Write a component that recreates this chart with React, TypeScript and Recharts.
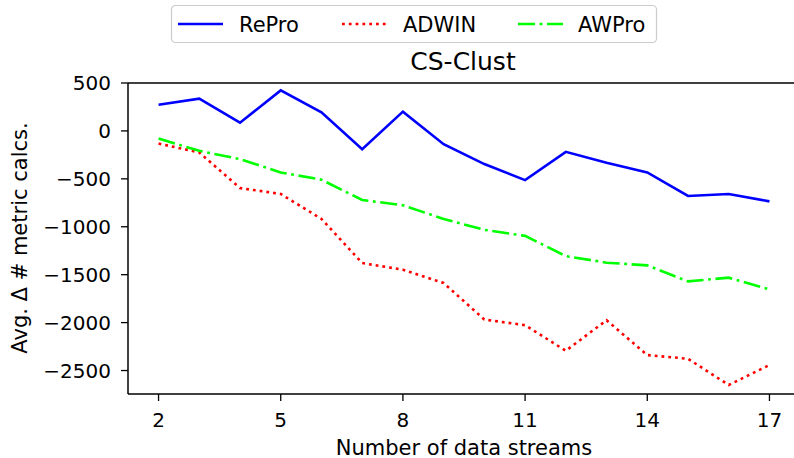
import React from "react";
import { LineChart, Line, XAxis, YAxis, ReferenceLine } from "recharts";

const streams = [2, 3, 4, 5, 6, 7, 8, 9, 10, 11, 12, 13, 14, 15, 16, 17];
const repro = [273, 336, 86, 423, 194, -190, 201, -138, -346, -513, -218, -333, -433, -679, -658, -735];
const adwin = [-132, -225, -596, -658, -918, -1379, -1448, -1587, -1968, -2027, -2294, -1975, -2339, -2377, -2651, -2443];
const awpro = [-80, -208, -294, -433, -509, -720, -776, -918, -1032, -1095, -1306, -1375, -1403, -1570, -1531, -1653];
const xTicks = [2, 5, 8, 11, 14, 17];
const yTicks = [500, 0, -500, -1000, -1500, -2000, -2500];

const data = streams.map((n, i) => ({
  n,
  repro: repro[i],
  adwin: adwin[i],
  awpro: awpro[i],
}));

const FONT = "'DejaVu Sans', sans-serif";

const series = [
  { key: "repro", name: "RePro", color: "#0000ff", dash: undefined as string | undefined },
  { key: "adwin", name: "ADWIN", color: "#ff0000", dash: "2.8 4" },
  { key: "awpro", name: "AWPro", color: "#00ff00", dash: "17 4.6 2.8 4.6" },
];

// legend sample / text x positions, page pixels
const legendX = [
  { line: 178, text: 239 },
  { line: 342, text: 403 },
  { line: 518, text: 578 },
];

const Overlay = () => (
  <svg width={794} height={80} style={{ position: "absolute", left: 0, top: 0, pointerEvents: "none" }}>
    <rect x={171.5} y={5.5} width={485} height={37} rx={4} fill="#fff" stroke="#cccccc" strokeWidth={1.2} />
    {series.map((s, i) => (
      <g key={s.key}>
        <line
          x1={legendX[i].line}
          x2={legendX[i].line + 45}
          y1={24}
          y2={24}
          stroke={s.color}
          strokeWidth={2.6}
          strokeDasharray={s.dash}
        />
        <text x={legendX[i].text} y={31.5} fontSize={21} fontFamily={FONT} fill="#000">
          {s.name}
        </text>
      </g>
    ))}
    <text x={463} y={70} textAnchor="middle" fontSize={25} fontFamily={FONT} fill="#000">
      CS-Clust
    </text>
  </svg>
);

export default function App() {
  return (
    <div style={{ position: "absolute", left: 0, top: 0, width: 794, height: 458, overflow: "hidden", background: "#fff" }}>
      <LineChart width={800} height={458} data={data} margin={{ top: 83, right: 0, bottom: 0, left: 0 }}>
        <XAxis
          dataKey="n"
          type="number"
          domain={[1.25, 17.75]}
          ticks={xTicks}
          allowDataOverflow
          height={64}
          tickSize={7}
          tickMargin={12}
          axisLine={{ stroke: "#000", strokeWidth: 1.5 }}
          tickLine={{ stroke: "#000", strokeWidth: 1.3 }}
          tick={{ fontSize: 20, fill: "#000", fontFamily: FONT }}
          label={{
            content: () => (
              <text x={464} y={455} textAnchor="middle" fontSize={21} fontFamily={FONT} fill="#000">
                Number of data streams
              </text>
            ),
          }}
        />
        <YAxis
          type="number"
          domain={[-2745, 500]}
          ticks={yTicks}
          allowDataOverflow
          width={128}
          tickSize={7}
          tickMargin={10}
          axisLine={{ stroke: "#000", strokeWidth: 1.5 }}
          tickLine={{ stroke: "#000", strokeWidth: 1.3 }}
          tick={{ fontSize: 20, fill: "#000", fontFamily: FONT }}
          tickFormatter={(v: number) => (v < 0 ? `\u2212${Math.abs(v)}` : `${v}`)}
          label={{
            content: () => (
              <text
                x={20}
                y={238}
                transform="rotate(-90 20 238)"
                textAnchor="middle"
                dominantBaseline="central"
                fontSize={21}
                fontFamily={FONT}
                fill="#000"
              >
                Avg. Δ # metric calcs.
              </text>
            ),
          }}
        />
        <ReferenceLine y={500} stroke="#000" strokeWidth={1.5} />
        {series.map((s) => (
          <Line
            key={s.key}
            dataKey={s.key}
            name={s.name}
            stroke={s.color}
            strokeWidth={2.6}
            strokeDasharray={s.dash}
            dot={false}
            activeDot={false}
            isAnimationActive={false}
            type="linear"
          />
        ))}
      </LineChart>
      <Overlay />
    </div>
  );
}
